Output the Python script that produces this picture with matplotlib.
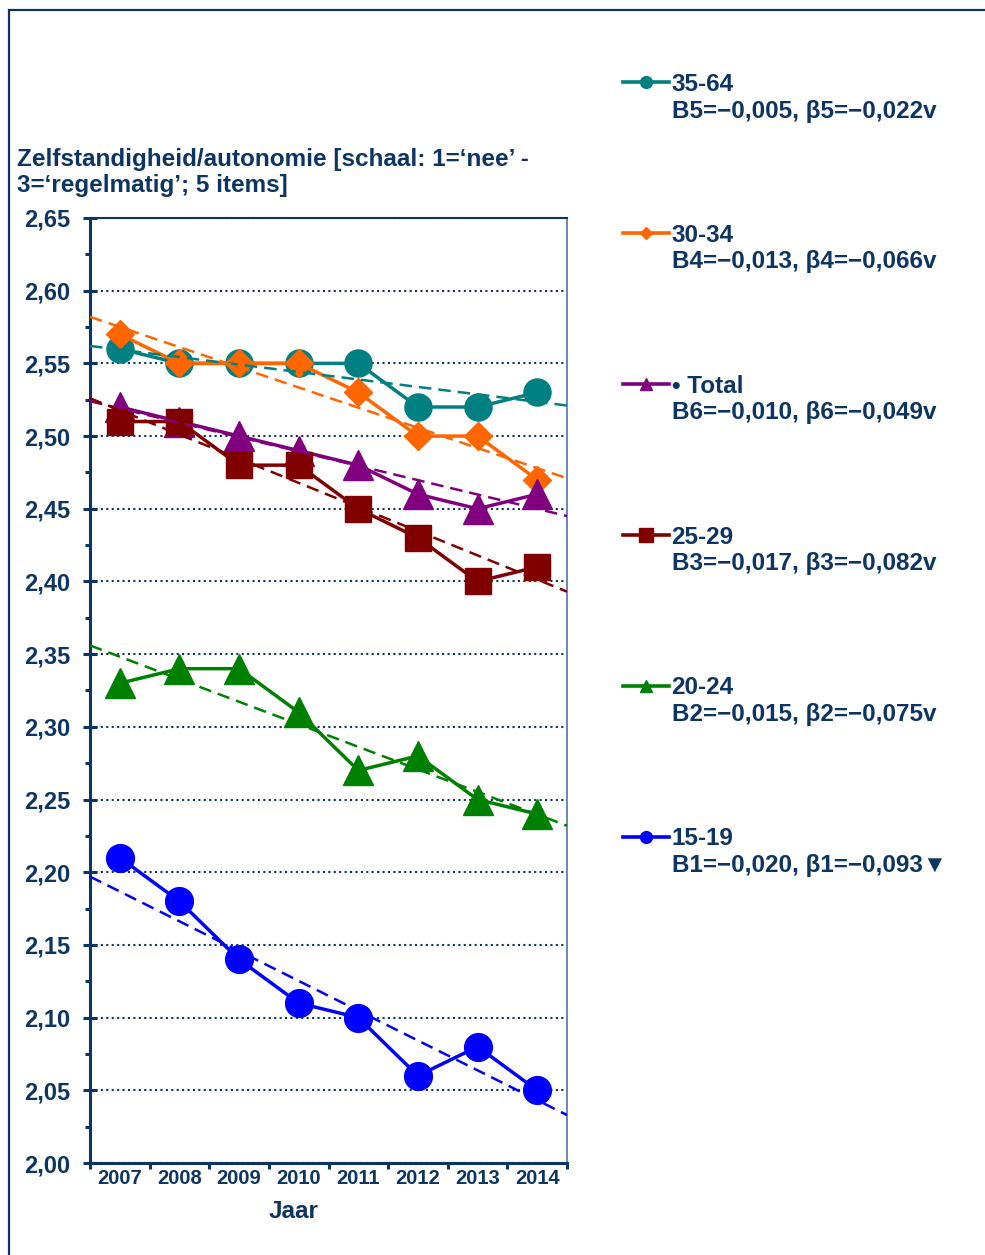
import matplotlib
matplotlib.use("Agg")
import matplotlib.pyplot as plt
from matplotlib.lines import Line2D
from matplotlib.patches import Rectangle
from matplotlib.ticker import FixedLocator, MultipleLocator, FuncFormatter

# --- Data ---
years = [2007, 2008, 2009, 2010, 2011, 2012, 2013, 2014]

groups = ["35-64", "30-34", "• Total", "25-29", "20-24", "15-19"]
coef_labels = [
    "B5=−0,005, β5=−0,022v",
    "B4=−0,013, β4=−0,066v",
    "B6=−0,010, β6=−0,049v",
    "B3=−0,017, β3=−0,082v",
    "B2=−0,015, β2=−0,075v",
    "B1=−0,020, β1=−0,093▼",
]

age_35_64 = [2.56, 2.55, 2.55, 2.55, 2.55, 2.52, 2.52, 2.53]
age_30_34 = [2.57, 2.55, 2.55, 2.55, 2.53, 2.50, 2.50, 2.47]
total = [2.52, 2.51, 2.50, 2.49, 2.48, 2.46, 2.45, 2.46]
age_25_29 = [2.51, 2.51, 2.48, 2.48, 2.45, 2.43, 2.40, 2.41]
age_20_24 = [2.33, 2.34, 2.34, 2.31, 2.27, 2.28, 2.25, 2.24]
age_15_19 = [2.21, 2.18, 2.14, 2.11, 2.10, 2.06, 2.08, 2.05]

# trend lines: value at left edge and right edge of the plot
trend_start = [2.562, 2.582, 2.524, 2.526, 2.356, 2.197]
trend_end = [2.521, 2.471, 2.445, 2.393, 2.232, 2.033]

series = [age_35_64, age_30_34, total, age_25_29, age_20_24, age_15_19]
colors = ["#008080", "#FF6600", "#800080", "#800000", "#008000", "#0000FF"]
markers = ["o", "D", "^", "s", "^", "o"]
msizes = [19.5, 14.5, 22, 18.5, 22, 20]
leg_msizes = [8.5, 6.5, 9, 9.5, 9, 8.5]

NAVY = "#0D3563"

plt.rcParams["font.family"] = ["Liberation Sans", "DejaVu Sans"]
plt.rcParams["font.weight"] = "bold"

fig = plt.figure(figsize=(9.85, 12.55), dpi=100)
ax = fig.add_axes([90 / 985, 1 - 1163 / 1255, 477 / 985, 945 / 1255])

x_lo, x_hi = years[0] - 0.5, years[-1] + 0.5

for i, (vals, c, m, ms) in enumerate(zip(series, colors, markers, msizes)):
    ax.plot(years, vals, color=c, lw=2.5, marker=m, ms=ms, mfc=c, mec=c,
            zorder=3 + i)
for s, e, c in zip(trend_start, trend_end, colors):
    ax.plot([x_lo, x_hi], [s, e], color=c, lw=1.8, ls=(0, (5, 2.8)),
            zorder=12)

ax.set_xlim(x_lo, x_hi)
ax.set_ylim(2.0, 2.65)

# y axis
ax.yaxis.set_major_locator(MultipleLocator(0.05))
ax.yaxis.set_minor_locator(MultipleLocator(0.025))
ax.yaxis.set_major_formatter(FuncFormatter(lambda v, _: f"{v:.2f}".replace(".", ",")))
ax.tick_params(axis="y", which="major", direction="inout", length=10, width=2.2,
               color=NAVY, labelsize=17, labelcolor=NAVY, pad=9.0)
ax.tick_params(axis="y", which="minor", direction="out", length=3.8, width=2.2,
               color=NAVY)
ax.yaxis.grid(True, which="major", color=NAVY, lw=1.5, ls=(0, (1, 1.6)))

# x axis: ticks between the years, labels on the years
ax.xaxis.set_major_locator(FixedLocator([y - 0.5 for y in years] + [x_hi]))
ax.xaxis.set_major_formatter(FuncFormatter(lambda v, _: ""))
ax.xaxis.set_minor_locator(FixedLocator(years))
ax.xaxis.set_minor_formatter(FuncFormatter(lambda v, _: f"{v:.0f}"))
ax.tick_params(axis="x", which="major", direction="out", length=4.5, width=2.2,
               color=NAVY)
ax.tick_params(axis="x", which="minor", length=0, labelsize=14.5, labelcolor=NAVY,
               pad=4.5)
ax.set_xlabel("Jaar", fontsize=17.5, color=NAVY, fontweight="bold")
ax.xaxis.set_label_coords(0.426, -0.039)

for side in ["left", "bottom"]:
    ax.spines[side].set_linewidth(2.2)
    ax.spines[side].set_color(NAVY)
ax.spines["top"].set_linewidth(1.5)
ax.spines["top"].set_color(NAVY)
ax.spines["right"].set_linewidth(1.3)
ax.spines["right"].set_color("#5E7FAE")

fig.text(17 / 985, 1 - 148 / 1255,
         "Zelfstandigheid/autonomie [schaal: 1=‘nee’ -\n3=‘regelmatig’; 5 items]",
         ha="left", va="top", fontsize=17.5, color=NAVY, fontweight="bold",
         linespacing=1.15)

# legend on the right, with the coefficients under each group name
handles = [Line2D([], [], color=c, lw=2.6, marker=m, ms=ms, mfc=c, mec=c)
           for c, m, ms in zip(colors, markers, leg_msizes)]
leg = fig.legend(handles, groups, loc="upper left",
                 bbox_to_anchor=(623 / 985, 1 - 73 / 1255), frameon=False,
                 borderpad=0, borderaxespad=0, handlelength=1.9,
                 handletextpad=0.1, labelspacing=5.26,
                 prop={"size": 17.5, "weight": "bold"})
for t in leg.get_texts():
    t.set_color(NAVY)
for t, lab in zip(leg.get_texts(), coef_labels):
    fig.add_artist(plt.Annotation(lab, xy=(0, 0), xycoords=t,
                                  xytext=(0, -15.5), textcoords="offset points",
                                  ha="left", va="baseline", fontsize=17.5,
                                  color=NAVY, fontweight="bold", zorder=8))

# outer frame
fig.add_artist(Rectangle((9 / 985, -0.1), 1.2, 1.1 - 10 / 1255,
                         transform=fig.transFigure, fill=False,
                         edgecolor=NAVY, lw=1.6, clip_on=False))

fig.savefig("out.png", dpi=100)
